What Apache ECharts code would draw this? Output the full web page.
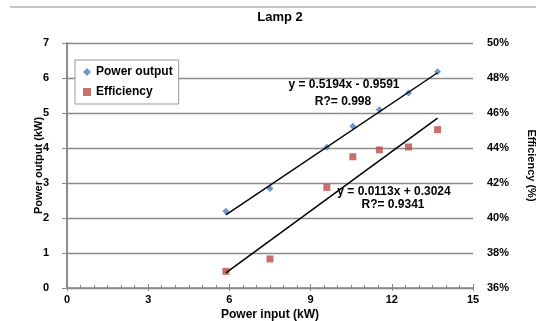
<!DOCTYPE html>
<html><head><meta charset="utf-8">
<script src="https://cdn.jsdelivr.net/npm/echarts@6/dist/echarts.min.js"></script>
<style>html,body{margin:0;padding:0;background:#fff}#c{width:536px;height:321px}</style>
</head><body><div id="c"></div>
<script>
// Power input (kW)
var powerInput = [5.87, 7.50, 9.60, 10.56, 11.54, 12.62, 13.69];
// Power output (kW) - left axis
var powerOutput = [2.19, 2.84, 4.02, 4.62, 5.09, 5.57, 6.18];
// Efficiency (%) - right axis
var efficiency = [36.95, 37.66, 41.75, 43.50, 43.89, 44.06, 45.05];
// Trendline endpoints (x, y)
var outputTrendX = [5.87, 13.69];
var outputTrendY = [2.09, 6.15];
var effTrendX = [5.87, 13.69];
var effTrendY = [36.87, 45.71];
var eqOutput = ['y = 0.5194x - 0.9591', 'R?= 0.998'];
var eqEff = ['y = 0.0113x + 0.3024', 'R?= 0.9341'];

function pairs(xs, ys){ return xs.map(function(x,i){return [x, ys[i]];}); }

var FONT = '"Liberation Sans", Arial, sans-serif';
var axisGray = '#868686';
var chart = echarts.init(document.getElementById('c'), null, {renderer:'canvas'});
chart.setOption({
  animation:false,
  backgroundColor:'#fff',
  textStyle:{fontFamily:FONT},
  title:{text:'Lamp 2', left:275, top:6, textAlign:'center',
    textStyle:{fontSize:13, fontWeight:'bold', color:'#000', fontFamily:FONT}},
  legend:{left:75, top:60, width:110, height:47, orient:'vertical', itemGap:8,
    padding:[6,6,6,8], borderColor:'#9a9a9a', borderWidth:1, backgroundColor:'#fff',
    itemWidth:8, itemHeight:8,
    textStyle:{fontSize:12, fontWeight:'bold', color:'#000', fontFamily:FONT},
    data:[{name:'Power output', icon:'diamond'},{name:'Efficiency', icon:'rect'}]},
  grid:{left:67, right:63, top:43, bottom:33, containLabel:false, outerBoundsMode:'none'},
  xAxis:[{type:'value', min:0, max:15, interval:3, position:'bottom',
    name:'Power input (kW)', nameLocation:'middle', nameGap:21, nameMoveOverlap:false,
    nameTextStyle:{fontSize:12, fontWeight:'bold', color:'#000', fontFamily:FONT},
    axisLine:{lineStyle:{color:axisGray, width:1.5}},
    axisTick:{show:true, inside:false, length:3, lineStyle:{color:axisGray}},
    axisLabel:{fontSize:11, fontWeight:'bold', color:'#000', margin:6},
    splitLine:{show:false}},
   {type:'value', min:0, max:15, interval:3, position:'bottom',
    axisLine:{show:false},
    axisTick:{show:true, inside:true, length:4, lineStyle:{color:axisGray}},
    minorTick:{show:true, splitNumber:6, length:3, lineStyle:{color:axisGray}},
    axisLabel:{show:false}, splitLine:{show:false}}],
  yAxis:[{type:'value', min:0, max:7, interval:1, position:'left',
    name:'Power output (kW)', nameLocation:'middle', nameRotate:90, nameGap:23, nameMoveOverlap:false,
    nameTextStyle:{fontSize:11, fontWeight:'bold', color:'#000', fontFamily:FONT},
    axisLine:{show:true, lineStyle:{color:axisGray, width:1.5}},
    axisTick:{show:true, length:5, lineStyle:{color:axisGray}},
    axisLabel:{fontSize:11, fontWeight:'bold', color:'#000', margin:18},
    splitLine:{show:true, lineStyle:{color:'#8c8c8c', width:1.3}}},
   {type:'value', min:36, max:50, interval:2, position:'right',
    name:'Efficiency (%)', nameLocation:'middle', nameRotate:-90, nameGap:53, nameMoveOverlap:false,
    nameTextStyle:{fontSize:11, fontWeight:'bold', color:'#000', fontFamily:FONT},
    axisLine:{show:true, lineStyle:{color:axisGray, width:1.5}},
    axisTick:{show:true, length:5, lineStyle:{color:axisGray}},
    axisLabel:{fontSize:11, fontWeight:'bold', color:'#000', margin:14, formatter:'{value}%'},
    splitLine:{show:false}}],
  series:[
    {name:'Power output', type:'scatter', xAxisIndex:0, yAxisIndex:0, symbol:'diamond', symbolSize:7,
     itemStyle:{color:'#4a7ebb'}, data:pairs(powerInput, powerOutput), z:5},
    {name:'Efficiency', type:'scatter', xAxisIndex:0, yAxisIndex:1, symbol:'rect', symbolSize:7,
     itemStyle:{color:'#be4b48'}, data:pairs(powerInput, efficiency), z:5},
    {name:'Output trend', type:'line', xAxisIndex:0, yAxisIndex:0, showSymbol:false, symbol:'none',
     lineStyle:{color:'#000', width:1.5}, data:pairs(outputTrendX, outputTrendY), z:6},
    {name:'Efficiency trend', type:'line', xAxisIndex:0, yAxisIndex:1, showSymbol:false, symbol:'none',
     lineStyle:{color:'#000', width:1.5}, data:pairs(effTrendX, effTrendY), z:6}
  ],
  graphic:[
    {type:'line', shape:{x1:10, y1:7, x2:536, y2:7}, style:{stroke:'#8c8c8c', lineWidth:1}},
    {type:'text', x:344, y:79, style:{text:eqOutput[0], fill:'#000', font:'bold 12px '+FONT, textAlign:'center'}, z:10},
    {type:'text', x:343, y:96, style:{text:eqOutput[1], fill:'#000', font:'bold 12px '+FONT, textAlign:'center'}, z:10},
    {type:'text', x:394, y:186, style:{text:eqEff[0], fill:'#000', font:'bold 12px '+FONT, textAlign:'center'}, z:10},
    {type:'text', x:393, y:199, style:{text:eqEff[1], fill:'#000', font:'bold 12px '+FONT, textAlign:'center'}, z:10}
  ]
});
</script></body></html>
